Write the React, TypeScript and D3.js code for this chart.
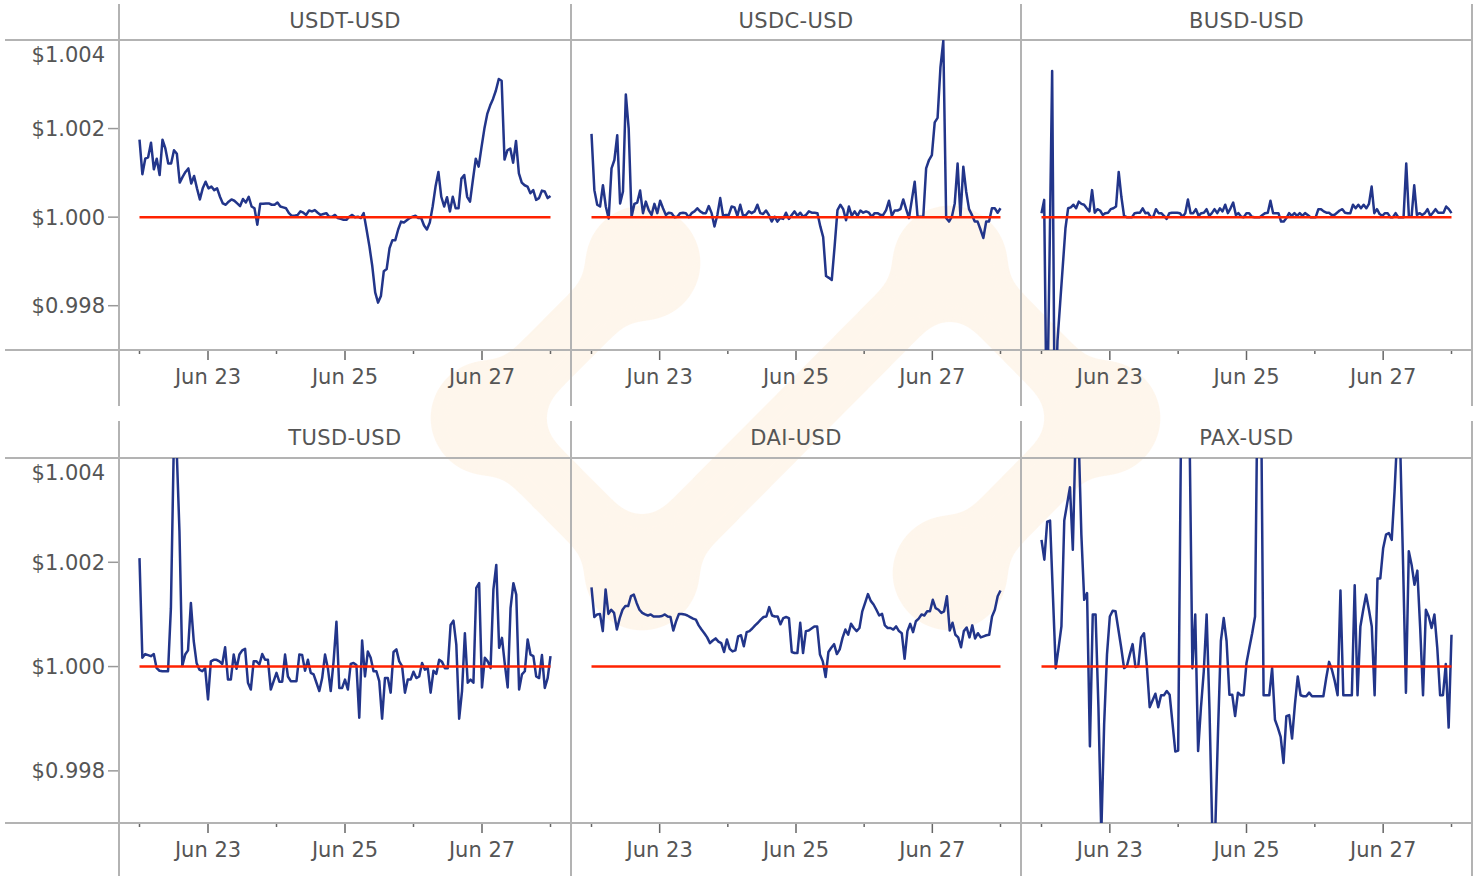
import { useEffect, useRef } from 'react';
import * as d3 from 'd3';

// Pairs shown, left to right, top to bottom
const pairs = ['USDT-USD', 'USDC-USD', 'BUSD-USD', 'TUSD-USD', 'DAI-USD', 'PAX-USD'];

// Hourly closes, Jun 22 00:00 -> Jun 28 00:00 (UTC)
const usdtPrices = [
  1.00175, 1.00097, 1.00132, 1.00135, 1.00168, 1.00108, 1.00132, 1.00095, 1.00175, 1.00155,
  1.00121, 1.00121, 1.00151, 1.00143, 1.00078, 1.00091, 1.00102, 1.0011, 1.00076, 1.00093,
  1.00065, 1.0004, 1.00065, 1.0008, 1.00065, 1.00069, 1.00061, 1.00065, 1.00046, 1.00031,
  1.00028, 1.00035, 1.0004, 1.00037, 1.00031, 1.00025, 1.00041, 1.00033, 1.00046, 1.00024,
  1.0002, 0.99983, 1.0003, 1.0003, 1.00031, 1.00031, 1.00028, 1.00028, 1.00033, 1.00024,
  1.00022, 1.0002, 1.00009, 1.00003, 1.00003, 1.00005, 1.00013, 1.0001, 1.00005, 1.00015,
  1.00013, 1.00016, 1.0001, 1.00005, 1.00007, 1.00009, 1.00001, 1.00001, 1.00005, 0.99998, 0.99996,
  0.99994, 0.99994, 1.00001, 1.00005, 1.0, 1.00001, 0.99998, 1.00009, 0.99972, 0.99934,
  0.99889, 0.9983, 0.99807, 0.99822, 0.99878, 0.99883, 0.9993, 0.99948, 0.99948, 0.99972,
  0.9999, 0.99988, 0.99993, 0.99998, 1.00001, 1.00003, 0.99998, 0.99998, 0.99981, 0.99972,
  0.99988, 1.00024, 1.00069, 1.00102, 1.00046, 1.00024, 1.00045, 1.00013, 1.00046, 1.0002,
  1.0002, 1.00087, 1.00095, 1.00046, 1.00035, 1.00084, 1.00132, 1.00114, 1.00158, 1.002,
  1.00233, 1.00252, 1.00267, 1.00286, 1.00312, 1.00308, 1.0013, 1.00151, 1.00155, 1.00123,
  1.00172, 1.00099, 1.00078, 1.00072, 1.00069, 1.00054, 1.00061, 1.00039, 1.00043, 1.0006,
  1.00058, 1.00043, 1.00048,
];

const usdcPrices = [
  1.00188, 1.00061, 1.00028, 1.00024, 1.00072, 1.00024, 0.99997, 1.0011, 1.00129,
  1.00185, 1.00031, 1.00058, 1.00277, 1.002, 1.00001, 1.0003, 1.00033, 1.0006, 1.00009,
  1.00035, 1.00016, 1.00005, 1.0003, 1.00009, 1.00037, 1.0002, 1.00005, 1.0001, 1.00009,
  1.0, 1.00001, 1.00009, 1.0001, 1.00009, 1.0, 1.00009, 1.00013, 1.0002, 1.00013,
  1.00009, 1.00009, 1.00025, 1.00009, 0.99979, 1.00005, 1.00043, 1.00003, 1.00005, 1.00005, 1.00024,
  1.00022, 1.00003, 1.00028, 1.00003, 1.00005, 1.00013, 1.00009, 1.00013, 1.00028, 1.00009,
  1.00007, 1.00015, 1.00005, 0.9999, 1.00001, 0.9999, 0.99998, 0.99996, 1.0001, 0.99996,
  1.00005, 1.00013, 1.00003, 1.0001, 1.00001, 1.00005, 1.00013, 1.0001, 1.0001, 1.00009,
  0.99979, 0.99955, 0.99867, 0.99863, 0.99858, 0.99934, 1.00016, 1.00028, 1.00018, 0.99993,
  1.00024, 1.00003, 1.00013, 1.00003, 1.00015, 1.0001, 1.00013, 1.0001, 1.00001, 1.00009,
  1.00009, 1.00005, 1.00005, 1.00016, 1.00037, 1.00003, 1.00015, 1.00015, 1.00018, 1.0004,
  1.00018, 0.99998, 1.00039, 1.0008, 1.00001, 1.00001, 1.00001, 1.0011, 1.00129, 1.0014,
  1.00214, 1.00224, 1.00338, 1.00398, 0.99998, 0.9999, 1.00001, 1.00031, 1.00121, 1.00001,
  1.00114, 1.00058, 1.00018, 1.00005, 0.9999, 0.9999, 0.99972, 0.99953, 0.9999, 0.9999,
  1.0002, 1.0002, 1.0001, 1.0002,
];

const busdPrices = [
  1.00009, 1.00039, 0.995, 0.999, 1.0033, 0.995, 0.9972, 0.99805, 0.9989, 0.99975,
  1.0002, 1.00022, 1.00028, 1.0002, 1.00035, 1.0003, 1.00028, 1.0002, 1.00013, 1.00061,
  1.0001, 1.00018, 1.00015, 1.00005, 1.00009, 1.0001, 1.00018, 1.0002, 1.00024, 1.00102,
  1.00046, 1.00003, 1.0, 1.0, 1.0, 1.00009, 1.0001, 1.0001, 1.0002, 1.00009,
  1.0001, 1.0, 1.00001, 1.00018, 1.00009, 1.00009, 1.00003, 0.99996, 1.00009, 1.0001,
  1.0001, 1.0001, 1.00009, 1.00001, 1.00009, 1.0004, 1.00009, 1.00009, 1.00018, 1.00003,
  1.00009, 1.0001, 1.00018, 1.00003, 1.00009, 1.00018, 1.00009, 1.0002, 1.00013, 1.00028,
  1.00009, 1.0002, 1.00033, 1.00005, 1.00009, 1.00001, 1.0, 1.00009, 1.00009, 1.00001,
  1.0, 1.0, 1.0, 1.00005, 1.00009, 1.0001, 1.00037, 1.00009, 1.00009, 1.00009,
  0.9999, 0.9999, 0.99998, 1.00009, 1.00003, 1.00009, 1.00003, 1.00009, 1.00003, 1.00009,
  1.00005, 1.0, 1.0, 1.0, 1.00018, 1.00018, 1.00013, 1.0001, 1.0001, 1.00005,
  1.00005, 1.0001, 1.00015, 1.00018, 1.0001, 1.00009, 1.00009, 1.00028, 1.0002, 1.00028,
  1.0002, 1.00028, 1.0002, 1.0003, 1.00069, 1.00009, 1.00018, 1.00007, 1.00003, 1.00009,
  1.00009, 1.0, 1.0, 1.00009, 1.0, 1.0, 1.0, 1.00121, 1.00001, 1.00001,
  1.00072, 1.00005, 1.00009, 1.00005, 1.00009, 1.00018, 1.00003, 1.0001, 1.00018, 1.0001,
  1.0001, 1.0001, 1.00024, 1.00018, 1.00009,
];

const tusdPrices = [
  1.00208, 1.00017, 1.00024, 1.00022, 1.0002, 1.00024, 0.99997, 0.99992, 0.99991, 0.99991,
  0.99991, 1.00112, 1.0042, 1.0042, 1.00259, 1.00001, 1.00023, 1.00031, 1.00122, 1.00049,
  1.00007, 0.99994, 0.99991, 0.99997, 0.99937, 1.0001, 1.00013, 1.00013, 1.0001, 1.00005,
  1.00037, 0.99975, 0.99975, 1.00023, 0.99996, 1.00023, 1.00031, 1.00034, 0.99969, 0.99956,
  1.0001, 1.0001, 1.00004, 1.00024, 1.00013, 1.00013, 0.99956, 0.99972, 0.99988, 0.99971,
  0.99971, 1.00023, 0.99981, 0.99972, 0.99972, 0.99972, 1.00023, 1.00022, 0.99992, 1.00013,
  0.99988, 0.99985, 0.99969, 0.99953, 0.99978, 1.00023, 0.99997, 0.99953, 1.0001, 1.00086,
  0.99959, 0.99959, 0.99975, 0.99956, 1.00005, 1.00007, 1.00003, 0.99902, 1.0005, 0.99981,
  1.00029, 1.00017, 0.99991, 0.99991, 0.99972, 0.999, 0.99978, 0.99978, 0.9995, 1.00028,
  1.00033, 1.0001, 1.00001, 0.9995, 0.99975, 0.99975, 0.9999, 0.99978, 0.99981, 1.00007,
  0.99994, 0.99997, 0.9995, 0.99992, 0.99986, 1.00013, 1.00009, 0.99997, 0.99997, 1.0008,
  1.00088, 1.00042, 0.999, 0.99953, 1.00064, 0.99969, 0.99975, 0.99969, 1.00151, 1.0016,
  0.9996, 1.00017, 1.0001, 0.99997, 1.00148, 1.00195, 1.00036, 1.00055, 1.00004, 0.9996,
  1.00112, 1.0016, 1.00138, 0.99956, 0.99985, 0.99991, 1.00052, 1.00023, 1.0002, 0.99981,
  0.99978, 1.00022, 0.99959, 0.99978, 1.0002,
];

const daiPrices = [
  1.00152, 1.00095, 1.001, 1.00101, 1.00068, 1.00148, 1.00101, 1.00109, 1.00103, 1.00071,
  1.00093, 1.00109, 1.00116, 1.00116, 1.00135, 1.00138, 1.00122, 1.00109, 1.00103, 1.001,
  1.00098, 1.001, 1.00096, 1.00096, 1.00096, 1.00097, 1.001, 1.00096, 1.00095, 1.00069, 1.00087,
  1.00101, 1.00101, 1.001, 1.00098, 1.00095, 1.00092, 1.0009, 1.00079, 1.00071, 1.00064, 1.00056,
  1.00045, 1.0005, 1.00054, 1.00048, 1.00045, 1.00028, 1.00052, 1.00034, 1.00029, 1.00031, 1.00058,
  1.0006, 1.00039, 1.00066, 1.00068, 1.00073, 1.00079, 1.00084, 1.0009, 1.00095, 1.00096, 1.00114,
  1.00098, 1.00096, 1.00096, 1.00081, 1.00093, 1.00095, 1.00093, 1.00028, 1.00026, 1.00026,
  1.00084, 1.00026, 1.00068, 1.00069, 1.00073, 1.00077, 1.00077, 1.00023, 1.0001, 0.9998,
  1.00028, 1.00036, 1.00043, 1.00024, 1.00033, 1.00055, 1.00071, 1.00061, 1.00082, 1.00074,
  1.00068, 1.00074, 1.00106, 1.00122, 1.00139, 1.00126, 1.00119, 1.00109, 1.00098, 1.00101,
  1.00079, 1.00074, 1.00074, 1.00071, 1.00077, 1.00068, 1.00064, 1.00015, 1.00068, 1.00082,
  1.00066, 1.00087, 1.00092, 1.001, 1.00098, 1.00106, 1.00106, 1.00128, 1.00112, 1.00109,
  1.00103, 1.00106, 1.00135, 1.00069, 1.00084, 1.00061, 1.00056, 1.00037, 1.00068,
  1.00075, 1.00056, 1.00079, 1.00054, 1.00064, 1.00056, 1.00058, 1.0006,
  1.00061, 1.00096, 1.00109, 1.00135, 1.00146,
];

const paxPrices = [
  1.00243, 1.00205, 1.00278, 1.0028, 1.00138, 0.99997, 1.00036, 1.00077, 1.0028, 1.00312,
  1.00344, 1.00224, 1.0045, 1.0045, 1.00253, 1.00128, 1.00141, 0.99847, 1.001, 1.001,
  0.99921, 0.9968, 0.99889, 1.00023, 1.00096, 1.00107, 1.00106, 1.00071, 1.00036, 0.99997,
  1.00001, 1.00023, 1.00043, 0.99999, 1.00001, 1.00056, 1.00064, 1.00001, 0.99922, 0.99935,
  0.99948, 0.99922, 0.99945, 0.99945, 0.99953, 0.99946, 0.99892, 0.99837, 0.99839, 1.0045,
  1.007, 1.007, 1.0045, 0.99997, 1.001, 0.99838, 0.99921, 0.99991, 1.001, 0.99918,
  0.9968, 0.9968, 0.99876, 1.00049, 1.00093, 1.00049, 0.99946, 0.99946, 0.99905, 0.9995,
  0.99945, 0.99945, 1.00007, 1.00036, 1.00064, 1.00096, 1.006, 1.006, 0.99945, 0.99945,
  0.99945, 0.99997, 0.99898, 0.99883, 0.99865, 0.99815, 0.99905, 0.99907, 0.99862, 0.99927,
  0.99981, 0.99945, 0.99943, 0.99943, 0.9995, 0.99943, 0.99943, 0.99943, 0.99943, 0.99943,
  0.99978, 1.00009, 0.99994, 0.99972, 0.99945, 1.00146, 0.99945, 0.99945, 0.99945, 0.99945,
  1.00156, 0.99945, 1.00077, 1.00109, 1.00138, 1.00109, 1.00077, 0.99945, 1.00169, 1.00169,
  1.00227, 1.00253, 1.00256, 1.00243, 1.00336, 1.0045, 1.0042, 1.00195, 0.9995, 1.00221,
  1.00195, 1.00157, 1.00184, 1.00074, 0.99945, 1.00109, 1.00096, 1.00074, 1.001, 1.00036,
  0.99945, 0.99945, 1.00005, 0.99883, 1.00061,
];

const pairPrices = [usdtPrices, usdcPrices, busdPrices, tusdPrices, daiPrices, paxPrices];

const startDate = new Date(Date.UTC(2020, 5, 22));
const endDate = new Date(Date.UTC(2020, 5, 28));
const priceDomain = [0.997, 1.004];
const priceTicks = [0.998, 1.0, 1.002, 1.004];
const pegPrice = 1.0;

const FONT = '"DejaVu Sans", Verdana, sans-serif';

export default function App() {
  const svgRef = useRef<SVGSVGElement>(null);

  useEffect(() => {
    if (!svgRef.current) return;
    const svg = d3.select(svgRef.current);
    svg.selectAll('*').remove();

    const cols = [119, 571, 1021, 1472];
    const rows = [
      { stripTop: 4, top: 40, bottom: 350, end: 406 },
      { stripTop: 421, top: 458, bottom: 823, end: 876 },
    ];
    const frame = '#b3b3b3';
    const textColor = '#555';

    const defs = svg.append('defs');

    // soft "goo" filter so the logo links blend into the nodes
    const goo = defs.append('filter').attr('id', 'goo');
    goo.append('feGaussianBlur').attr('in', 'SourceGraphic').attr('stdDeviation', 12).attr('result', 'blur');
    goo.append('feColorMatrix').attr('in', 'blur').attr('mode', 'matrix')
      .attr('values', '1 0 0 0 0  0 1 0 0 0  0 0 1 0 0  0 0 0 30 -15');

    // faint logo watermark behind everything
    const wm = svg.append('g').attr('filter', 'url(#goo)')
      .attr('fill', '#fef6ec').attr('stroke', '#fef6ec');
    const nodes: Record<string, [number, number]> = {
      tl: [643, 263], tr: [950, 263], l: [488, 418],
      r: [1103, 418], bl: [642, 573], br: [950, 573],
    };
    const links = [['tl', 'l'], ['l', 'bl'], ['tr', 'r'], ['r', 'br'], ['tr', 'bl']];
    links.forEach(([a, b]) => {
      wm.append('line')
        .attr('x1', nodes[a][0]).attr('y1', nodes[a][1])
        .attr('x2', nodes[b][0]).attr('y2', nodes[b][1])
        .attr('stroke-width', 62);
    });
    Object.values(nodes).forEach(([cx, cy]) => {
      wm.append('circle').attr('cx', cx).attr('cy', cy).attr('r', 59).attr('stroke', 'none');
    });

    rows.forEach((row, ri) => {
      const y = d3.scaleLinear().domain(priceDomain).range([row.bottom, row.top]);

      // frame lines
      [row.top, row.bottom].forEach(yy => {
        svg.append('line')
          .attr('x1', 5).attr('x2', cols[3] + 1)
          .attr('y1', yy).attr('y2', yy)
          .attr('stroke', frame).attr('stroke-width', 2);
      });
      cols.forEach(xx => {
        svg.append('line')
          .attr('x1', xx).attr('x2', xx)
          .attr('y1', row.stripTop).attr('y2', row.end)
          .attr('stroke', frame).attr('stroke-width', 2);
      });

      // y axis labels
      const yAxis = svg.append('g');
      priceTicks.forEach(t => {
        const isTop = t === priceDomain[1];
        if (!isTop) {
          yAxis.append('line')
            .attr('x1', 108).attr('x2', 118)
            .attr('y1', y(t)).attr('y2', y(t))
            .attr('stroke', '#999').attr('stroke-width', 1.5);
        }
        yAxis.append('text')
          .attr('x', 105)
          .attr('y', isTop ? row.top + 22 : y(t) + 7.5)
          .attr('text-anchor', 'end')
          .attr('font-family', FONT)
          .attr('font-size', 21)
          .attr('fill', textColor)
          .text(`$${t.toFixed(3)}`);
      });

      for (let ci = 0; ci < 3; ci++) {
        const idx = ri * 3 + ci;
        const left = cols[ci];
        const right = cols[ci + 1];
        const x = d3.scaleUtc().domain([startDate, endDate]).range([left + 20.5, right - 20.5]);
        const prices = pairPrices[idx];
        const when = d3.scaleLinear().domain([0, prices.length - 1])
          .range([startDate.getTime(), endDate.getTime()]);

        // strip title
        svg.append('text')
          .attr('x', (left + right) / 2)
          .attr('y', row.stripTop + 24)
          .attr('text-anchor', 'middle')
          .attr('font-family', FONT)
          .attr('font-size', 21)
          .attr('letter-spacing', 0.4)
          .attr('fill', textColor)
          .text(pairs[idx]);

        // x axis ticks, every day, labels on odd days
        const days = d3.utcDay.range(startDate, d3.utcDay.offset(endDate, 1));
        const xAxis = svg.append('g');
        days.forEach(d => {
          const major = d.getUTCDate() % 2 === 1;
          xAxis.append('line')
            .attr('x1', x(d)).attr('x2', x(d))
            .attr('y1', row.bottom + 1).attr('y2', row.bottom + (major ? 10 : 4))
            .attr('stroke', '#666').attr('stroke-width', 1.5);
          if (major) {
            xAxis.append('text')
              .attr('x', x(d))
              .attr('y', row.bottom + 34)
              .attr('text-anchor', 'middle')
              .attr('font-family', FONT)
              .attr('font-size', 21)
              .attr('fill', textColor)
              .text(d3.utcFormat('%b %d')(d));
          }
        });

        const clipId = `clip-${idx}`;
        defs.append('clipPath').attr('id', clipId)
          .append('rect')
          .attr('x', left).attr('y', row.top)
          .attr('width', right - left).attr('height', row.bottom - row.top);

        const line = d3.line<number>()
          .x((_, i) => x(new Date(when(i))))
          .y(p => y(p));

        const plot = svg.append('g').attr('clip-path', `url(#${clipId})`);
        plot.append('path')
          .datum(prices)
          .attr('d', line)
          .attr('fill', 'none')
          .attr('stroke', '#22358a')
          .attr('stroke-width', 2.5)
          .attr('stroke-linejoin', 'round');

        // $1 peg reference
        plot.append('line')
          .attr('x1', x(startDate)).attr('x2', x(endDate))
          .attr('y1', y(pegPrice)).attr('y2', y(pegPrice))
          .attr('stroke', '#ff2200')
          .attr('stroke-width', 2.5);
      }
    });
  }, []);

  return (
    <svg
      ref={svgRef}
      width={1479}
      height={876}
      style={{ position: 'absolute', left: 0, top: 0, background: '#fff' }}
    />
  );
}
